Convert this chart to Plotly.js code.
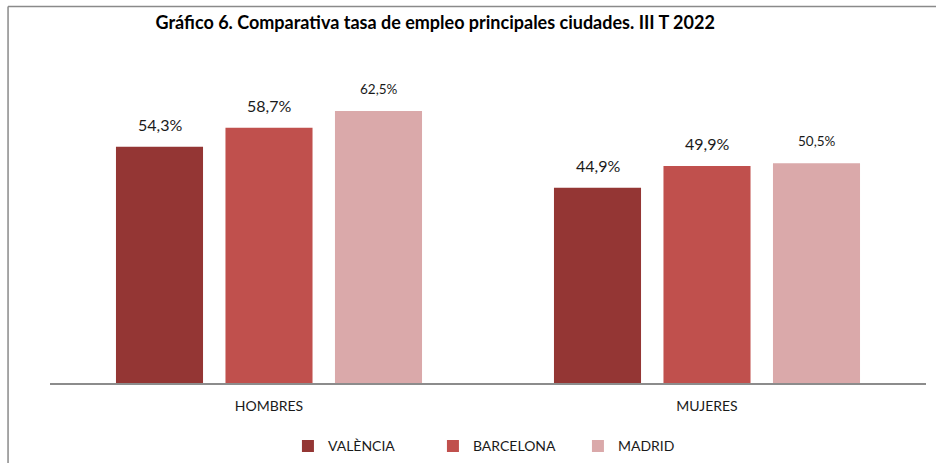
<!DOCTYPE html>
<html>
<head>
<meta charset="utf-8">
<script src="https://cdn.plot.ly/plotly-3.0.1.min.js"></script>
<style>html,body{margin:0;padding:0;background:#fff;}#chart{width:936px;height:463px;}</style>
</head>
<body>
<div id="chart"></div>
<script>
const categories = ['HOMBRES', 'MUJERES'];
const seriesNames = ['VALÈNCIA', 'BARCELONA', 'MADRID'];
const valencia = [54.3, 44.9];
const barcelona = [58.7, 49.9];
const madrid = [62.5, 50.5];
const seriesValues = [valencia, barcelona, madrid];
const colors = ['#943634', '#C0504D', '#DAA9AA'];
const labelSizes = [16, 16, 13.5];
const titleText = 'Gráfico 6. Comparativa tasa de empleo principales ciudades. III T 2022';

const fmt = v => v.toFixed(1).replace('.', ',') + '%';

const traces = seriesValues.map((vals, i) => ({
  type: 'bar',
  name: seriesNames[i],
  x: categories,
  y: vals,
  marker: {color: colors[i]},
  hoverinfo: 'none'
}));

const bargap = 0.25, bargroupgap = 0.205;
const slot = (1 - bargap) / seriesValues.length;
const annotations = [];
seriesValues.forEach((vals, i) => {
  vals.forEach((v, j) => {
    annotations.push({
      xref: 'x', yref: 'y',
      x: j + (i - (seriesValues.length - 1) / 2) * slot,
      y: v,
      text: fmt(v),
      showarrow: false,
      yanchor: 'middle',
      yshift: 22,
      font: {family: 'Lato, sans-serif', size: labelSizes[i], color: '#1a1a1a'}
    });
  });
});

const layout = {
  width: 936, height: 463,
  margin: {l: 50, r: 10, t: 40, b: 80},
  paper_bgcolor: '#ffffff',
  plot_bgcolor: '#ffffff',
  barmode: 'group',
  bargap: bargap,
  bargroupgap: bargroupgap,
  title: {
    text: '<b>' + titleText + '</b>',
    x: 0.465, xanchor: 'center', xref: 'container',
    y: 0.952, yanchor: 'middle', yref: 'container',
    font: {family: 'Lato, sans-serif', size: 18, color: '#000'},
    automargin: false
  },
  xaxis: {
    type: 'category', automargin: false,
    showline: true, linecolor: '#8c8c8c', linewidth: 2,
    ticks: '', ticklabelstandoff: 9,
    tickfont: {family: 'Lato, sans-serif', size: 14, color: '#1a1a1a'},
    showgrid: false, zeroline: false, fixedrange: true
  },
  yaxis: {
    range: [0, 78.85], visible: false, automargin: false, showgrid: false, zeroline: false, fixedrange: true
  },
  showlegend: true,
  legend: {
    orientation: 'h', x: 0.54, xanchor: 'center', xref: 'container',
    y: 0.036, yanchor: 'middle', yref: 'container',
    font: {family: 'Lato, sans-serif', size: 14, color: '#1a1a1a'},
    entrywidth: 100, entrywidthmode: 'pixels',
    traceorder: 'normal', itemclick: false, itemdoubleclick: false
  },
  annotations: annotations,
  shapes: [
    {type: 'line', xref: 'paper', yref: 'paper', x0: -0.0479, x1: 1.02, y0: 1.0977, y1: 1.0977, line: {color: '#8a8a8a', width: 1.5}},
    {type: 'line', xref: 'paper', yref: 'paper', x0: -0.0479, x1: -0.0479, y0: 1.0977, y1: -0.24, line: {color: '#8a8a8a', width: 1.5}}
  ]
};

Plotly.newPlot('chart', traces, layout, {displayModeBar: false, staticPlot: true});
</script>
</body>
</html>
